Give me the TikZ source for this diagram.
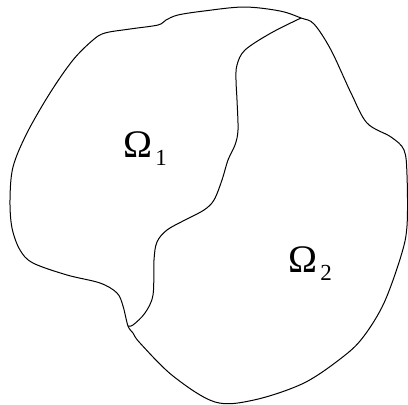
\documentclass[tikz,border=0pt]{standalone}
\usepackage{fontspec}
\setmainfont{Liberation Serif}

\newcommand{\domname}[1]{Ω\kern3pt\raisebox{-8pt}{\fontsize{23}{25}\selectfont #1}}

\begin{document}
\begin{tikzpicture}[x=1pt, y=-1pt, line width=1pt,
  domlabel/.style={inner sep=0pt, anchor=base west, font=\fontsize{39}{41}\selectfont}]
  \useasboundingbox (0,0) rectangle (408,405);
  \coordinate (top) at (301,18);
  \coordinate (bot) at (128,326);
  \draw plot[smooth cycle, tension=0.55] coordinates {
    (top) (314,24) (331,50) (351,93) (367,123) (391,137) (404,150)
    (407,175) (407,226) (401,256) (384,303) (364,336) (344,356)
    (304,383) (254,400) (215,402) (173,376) (140,343) (133,333)
    (bot) (123,306) (117,293) (100,283) (67,275) (33,263) (20,250)
    (12,228) (10,200) (13,167) (27,133) (50,93) (73,60) (93,40)
    (105,33) (130,29) (158,25) (166,20) (178,15) (204,11) (244,7) (280,11)};
  \draw plot[smooth, tension=0.55] coordinates {
    (top) (271,33) (245,50) (237,65) (236,80) (237,100) (238,130)
    (235,145) (228,160) (222,180) (214,200) (204,210) (185,220)
    (167,230) (157,242) (154,260) (153,295) (145,313) (133,325) (bot)};
  \node[domlabel] (omega1) at (123,157) {\domname{1}};
  \node[domlabel] (omega2) at (288,272) {\domname{2}};
\end{tikzpicture}
\end{document}
